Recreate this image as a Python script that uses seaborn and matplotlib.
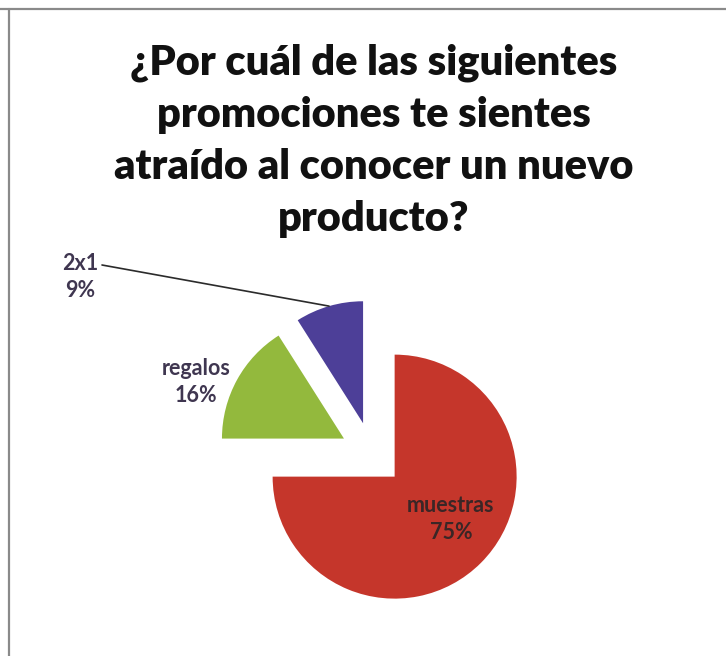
import matplotlib
matplotlib.use("Agg")
import matplotlib.pyplot as plt
from matplotlib.lines import Line2D
import numpy as np
import seaborn as sns

# Survey answers
categories = ["muestras", "regalos", "2x1"]
percentages = [75, 16, 9]

# Styling
colors = ["#c5362b", "#93b93d", "#4d3f98"]
label_colors = ["#3a2626", "#3f3650", "#3f3650"]
title = "¿Por cuál de las siguientes\npromociones te sientes\natraído al conocer un nuevo\nproducto?"

sns.set_theme(style="white")
plt.rcParams["font.family"] = ["Lato", "DejaVu Sans"]

W, H = 726, 656
fig = plt.figure(figsize=(W / 100, H / 100), dpi=100)
fig.patch.set_facecolor("white")
ax = fig.add_axes([0, 0, 1, 1])

radius = 122
center = (372, H - 454)
explode = [32, 32, 32]  # offsets in data units (pixels here)

wedges, _ = ax.pie(
    percentages,
    colors=colors,
    explode=explode,
    startangle=90,
    counterclock=False,
    radius=radius,
    center=center,
    frame=True,
    wedgeprops=dict(linewidth=0),
)
ax.set_xlim(0, W)
ax.set_ylim(0, H)
ax.set_aspect("equal")
ax.axis("off")

# Label anchors (pixel positions, y measured from top)
label_pos = [(451, 519), (196, 382), (80, 277)]
for i, (cat, pct) in enumerate(zip(categories, percentages)):
    x, y = label_pos[i]
    ax.text(x, H - y, f"{cat}\n{pct}%", ha="center", va="center",
            fontsize=15.5, fontweight="bold", color=label_colors[i],
            linespacing=1.35)

# Leader line from the "2x1" label to the middle of its wedge's arc
w = wedges[2]
mid = np.deg2rad((w.theta1 + w.theta2) / 2)
end = (w.center[0] + w.r * np.cos(mid), w.center[1] + w.r * np.sin(mid))
ax.plot([102, end[0]], [H - 265, end[1]], color="#2b2b2b", linewidth=1.2)

# Title
fig.text(374 / W, 1 - 141 / H, title, ha="center", va="center",
         fontsize=30, fontweight="heavy", color="#111111", linespacing=1.45)

# Frame edges
fig.add_artist(Line2D([0, 1], [1 - 8.5 / H, 1 - 8.5 / H], transform=fig.transFigure,
                      color="#8a8a8a", linewidth=1.6))
fig.add_artist(Line2D([8.5 / W, 8.5 / W], [0, 1 - 8.5 / H], transform=fig.transFigure,
                      color="#8a8a8a", linewidth=1.6))

fig.savefig("out.png", dpi=100, facecolor="white")
